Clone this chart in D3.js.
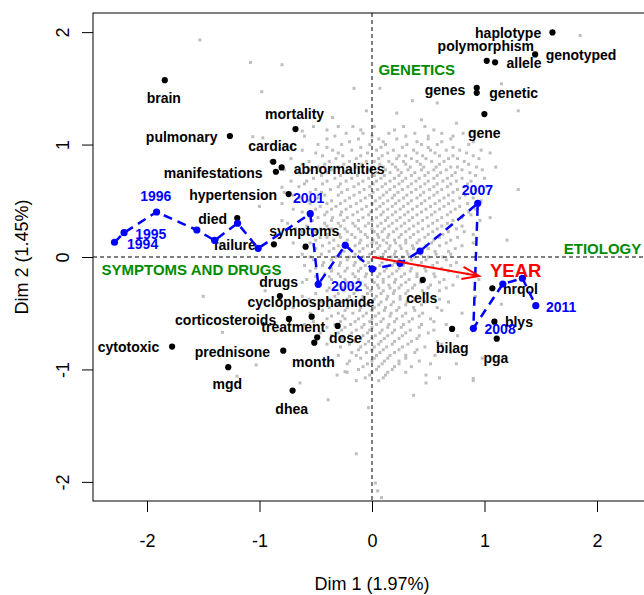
<!DOCTYPE html>
<html><head><meta charset="utf-8">
<script src="https://cdn.jsdelivr.net/npm/d3@7"></script>
<style>body{margin:0;background:#fff;overflow:hidden} text{font-family:"Liberation Sans",Arial,sans-serif}</style>
</head><body><svg id="c" width="644" height="595"></svg>
<script>
// ---------------- data ----------------
const xTicks = [-2, -1, 0, 1, 2];
const yTicks = [-2, -1, 0, 1, 2];
const xTitle = "Dim 1 (1.97%)";
const yTitle = "Dim 2 (1.45%)";

const words  = ["brain","pulmonary","mortality","cardiac","abnormalities","manifestations","hypertension","died","failure","symptoms",
                "drugs","cyclophosphamide","corticosteroids","treatment","dose","month","prednisone","mgd","dhea","cytotoxic",
                "haplotype","polymorphism","allele","genotyped","genes","genetic","gene",
                "cells","nrqol","blys","bilag","pga"];
const wordX  = [-1.842,-1.263,-0.680,-0.878,-0.803,-0.854,-0.741,-1.198,-0.872,-0.590,
                -0.819,-0.536,-0.738,-0.305,-0.487,-0.513,-0.789,-1.278,-0.706,-1.777,
                 1.604, 1.020, 1.094, 1.450, 0.931, 0.931, 0.999,
                 0.451, 1.070, 1.088, 0.712, 1.109];
const wordY  = [ 1.573, 1.076, 1.138, 0.847, 0.797, 0.758, 0.560, 0.347, 0.113, 0.092,
                -0.347,-0.531,-0.551,-0.613,-0.714,-0.762,-0.833,-0.980,-1.188,-0.797,
                 1.997, 1.745, 1.731, 1.802, 1.505, 1.460, 1.271,
                -0.204,-0.278,-0.575,-0.640,-0.726];
const wordLX = [-1.851,-1.692,-0.688,-0.883,-0.292,-1.412,-1.234,-1.417,-1.219,-0.602,
                -0.830,-0.544,-1.301,-0.700,-0.236,-0.520,-1.241,-1.286,-0.714,-2.165,
                 1.210, 1.012, 1.351, 1.858, 0.649, 1.259, 0.998,
                 0.442, 1.319, 1.306, 0.714, 1.101];
const wordLY = [ 1.413, 1.069, 1.268, 0.987, 0.782, 0.749, 0.551, 0.335, 0.104, 0.234,
                -0.225,-0.397,-0.560,-0.625,-0.723,-0.936,-0.842,-1.132,-1.354,-0.803,
                 1.988, 1.878, 1.727, 1.796, 1.484, 1.455, 1.105,
                -0.367,-0.287,-0.580,-0.806,-0.900];

const years = [1994,1995,1996,1997,1998,1999,2000,2001,2002,2003,2004,2005,2006,2007,2008,2009,2010,2011];
const yearX = [-2.289,-2.204,-1.915,-1.557,-1.399,-1.195,-1.012,-0.549,-0.478,-0.238, 0.003, 0.249, 0.427, 0.940, 0.901, 1.163, 1.337, 1.456];
const yearY = [ 0.131, 0.216, 0.400, 0.240, 0.148, 0.300, 0.077, 0.385,-0.243, 0.104,-0.107,-0.056, 0.053, 0.477,-0.634,-0.240,-0.189,-0.433];
const labeledYears = [1994,1995,1996,2001,2002,2007,2008,2011];
const yearLX = [-2.039,-1.966,-1.922,-0.563,-0.225, 0.937, 1.139, 1.681];
const yearLY = [ 0.113, 0.204, 0.542, 0.522,-0.258, 0.596,-0.643,-0.442];

const groups  = ["GENETICS","SYMPTOMS AND DRUGS","ETIOLOGY"];
const groupX  = [0.398,-1.604, 2.049];
const groupY  = [1.668,-0.109, 0.077];

const arrowEnd = [0.952, -0.169];
const arrowLabel = "YEAR";
const arrowLabelPos = [1.277, -0.122];

// gray cloud (other words): rows of [y, x-values]
const grayRows = [
 [1.16,[-0.52,-0.3,-0.17,0.02,0.28,0.47]],
 [1.13,[-0.4,-0.1,0.2,0.55]],
 [1.10,[-0.23,-0.08,0.15,0.38,0.62,0.81]],
 [1.075,[-0.6,-0.33,0.0,0.3,0.5,0.72]],
 [1.05,[-0.4,-0.12,0.06,0.22,0.5,0.7]],
 [1.025,[-0.2,0.1,0.4,0.62,0.9]],
 [1.00,[-0.48,-0.27,-0.02,0.12,0.31,0.44,0.58,0.86]],
 [0.975,[-0.72,-0.4,-0.1,0.08,0.27,0.5,0.72]],
 [0.95,[-0.62,-0.35,-0.18,0.04,0.19,0.37,0.52,0.66,0.78,0.97]],
 [0.925,[-0.5,-0.3,-0.04,0.14,0.4,0.56,0.84,1.05]],
 [0.90,[-0.44,-0.26,-0.1,0.09,0.24,0.3,0.45,0.6,0.72,0.9]],
 [0.875,[-0.72,-0.32,-0.14,0.06,0.22,0.35,0.48,0.68,0.76,0.95]],
 [0.85,[-0.56,-0.38,-0.2,-0.05,0.02,0.15,0.28,0.4,0.53,0.64,0.82]],
 [0.825,[-0.62,-0.42,-0.25,-0.09,0.07,0.18,0.3,0.43,0.6,0.86]],
 [0.80,[-0.48,-0.3,-0.14,0.0,0.1,0.21,0.34,0.46,0.57,0.7,0.76,0.93]],
 [0.775,[-0.78,-0.55,-0.36,-0.19,-0.04,0.12,0.23,0.32,0.44,0.55,0.66,0.8,0.98]],
 [0.75,[-0.66,-0.4,-0.24,-0.08,0.05,0.16,0.26,0.38,0.5,0.61,0.74,0.87]],
 [0.725,[-0.45,-0.28,-0.13,0.02,0.11,0.24,0.35,0.47,0.58,0.71,0.92]],
 [0.70,[-0.52,-0.33,-0.18,-0.03,0.08,0.2,0.3,0.42,0.55,0.67,0.8,1.0]],
 [0.675,[-0.72,-0.58,-0.4,-0.23,-0.08,0.04,0.16,0.27,0.39,0.5,0.63,0.75,0.88]],
 [0.65,[-0.6,-0.44,-0.28,-0.12,0.01,0.12,0.24,0.35,0.47,0.58,0.7,0.85]],
 [0.625,[-0.65,-0.3,-0.16,-0.02,0.09,0.2,0.32,0.43,0.55,0.67,0.82,1.02]],
 [0.60,[-0.5,-0.37,-0.22,-0.07,0.05,0.16,0.27,0.39,0.51,0.62,0.76,0.92]],
 [0.575,[-0.78,-0.55,-0.45,-0.27,-0.11,0.01,0.13,0.23,0.35,0.46,0.58,0.72,0.88]],
 [0.55,[-0.7,-0.42,-0.3,-0.16,-0.02,0.1,0.2,0.31,0.43,0.55,0.68,0.83]],
 [0.525,[-0.64,-0.48,-0.2,-0.06,0.07,0.18,0.28,0.4,0.51,0.64,0.78,0.9]],
 [0.50,[-0.56,-0.36,-0.24,-0.1,0.03,0.14,0.24,0.35,0.47,0.6,0.72,0.97]],
 [0.475,[-0.8,-0.55,-0.4,-0.28,-0.14,0.0,0.1,0.21,0.32,0.44,0.56,0.68,0.85]],
 [0.45,[-0.46,-0.32,-0.19,-0.05,0.07,0.18,0.28,0.4,0.52,0.64,0.78]],
 [0.425,[-0.7,-0.5,-0.36,-0.23,-0.09,0.04,0.14,0.25,0.36,0.48,0.6,0.74,0.92]],
 [0.40,[-0.62,-0.4,-0.27,-0.13,-0.01,0.1,0.21,0.32,0.44,0.56,0.7,0.86]],
 [0.375,[-0.56,-0.42,-0.28,-0.17,-0.03,0.08,0.18,0.29,0.4,0.53,0.67,0.88]],
 [0.35,[-0.48,-0.35,-0.22,-0.08,0.04,0.14,0.25,0.36,0.49,0.62,0.8]],
 [0.325,[-0.8,-0.53,-0.36,-0.25,-0.12,0.0,0.12,0.22,0.33,0.45,0.58,0.72,0.96]],
 [0.30,[-0.42,-0.3,-0.17,-0.03,0.08,0.18,0.29,0.41,0.54,0.67]],
 [0.275,[-0.58,-0.4,-0.28,-0.15,-0.06,0.05,0.15,0.26,0.37,0.5,0.62,0.8]],
 [0.25,[-0.68,-0.46,-0.36,-0.24,-0.12,0.0,0.11,0.22,0.33,0.45,0.58,0.75]],
 [0.225,[-0.62,-0.5,-0.34,-0.22,-0.1,0.02,0.09,0.19,0.3,0.41,0.54,0.68,0.82]],
 [0.20,[-0.4,-0.29,-0.18,-0.06,0.05,0.15,0.26,0.37,0.5,0.63,0.9]],
 [0.175,[-0.46,-0.4,-0.28,-0.15,-0.04,0.06,0.14,0.24,0.34,0.47,0.6,0.76]],
 [0.15,[-0.5,-0.34,-0.22,-0.1,0.01,0.1,0.2,0.3,0.42,0.55,0.7]],
 [0.125,[-0.7,-0.55,-0.38,-0.24,-0.11,0.0,0.04,0.13,0.21,0.3,0.4,0.53,0.66,0.9]],
 [0.10,[-0.44,-0.3,-0.15,-0.04,0.07,0.16,0.25,0.36,0.48,0.6,0.8]],
 [0.075,[-0.5,-0.34,-0.2,-0.08,0.05,0.15,0.26,0.37,0.5,0.74]],
 [0.05,[-0.38,-0.25,-0.11,0.02,0.12,0.21,0.31,0.43,0.56,0.68]],
 [0.025,[-0.62,-0.45,-0.28,-0.15,-0.02,0.1,0.2,0.32,0.44,0.57,0.7]],
 [0.00,[-0.55,-0.32,-0.2,-0.08,0.06,0.17,0.27,0.38,0.5,0.63]],
 [-0.025,[-0.52,-0.36,-0.22,-0.1,0.0,0.13,0.24,0.35,0.48,0.66]],
 [-0.05,[-0.43,-0.28,-0.15,-0.03,0.09,0.2,0.31,0.44,0.58,0.75]],
 [-0.075,[-0.6,-0.44,-0.29,-0.16,-0.06,0.07,0.18,0.28,0.41,0.54,0.7]],
 [-0.10,[-0.5,-0.36,-0.22,-0.1,0.03,0.13,0.24,0.35,0.47,0.62]],
 [-0.125,[-0.55,-0.36,-0.24,-0.12,0.0,0.11,0.22,0.34,0.48,0.68]],
 [-0.15,[-0.42,-0.3,-0.17,-0.05,0.07,0.18,0.29,0.4,0.55,0.85]],
 [-0.175,[-0.5,-0.38,-0.28,-0.15,-0.06,0.05,0.15,0.26,0.4,0.56,0.76]],
 [-0.20,[-0.58,-0.36,-0.24,-0.12,0.0,0.1,0.21,0.33,0.46,0.64]],
 [-0.225,[-0.62,-0.48,-0.22,-0.1,0.02,0.1,0.2,0.3,0.43,0.6]],
 [-0.25,[-0.46,-0.3,-0.18,-0.06,0.05,0.15,0.26,0.38,0.52,0.72]],
 [-0.275,[-0.38,-0.26,-0.14,-0.04,0.06,0.16,0.24,0.36,0.5,0.66]],
 [-0.30,[-0.4,-0.25,-0.13,-0.01,0.1,0.2,0.32,0.45,0.6]],
 [-0.325,[-0.5,-0.3,-0.16,-0.04,0.08,0.19,0.3,0.48]],
 [-0.35,[-0.62,-0.33,-0.2,-0.08,0.04,0.14,0.25,0.4,0.55,0.92]],
 [-0.375,[-0.56,-0.38,-0.22,-0.09,0.02,0.13,0.25,0.38,0.6]],
 [-0.40,[-0.45,-0.27,-0.15,-0.03,0.08,0.19,0.31,0.47,0.68]],
 [-0.425,[-0.52,-0.3,-0.16,-0.05,0.06,0.17,0.3,0.44]],
 [-0.45,[-0.38,-0.22,-0.1,0.02,0.12,0.24,0.37,0.58]],
 [-0.475,[-0.44,-0.24,-0.11,0.0,0.11,0.22,0.38,0.62]],
 [-0.50,[-0.55,-0.3,-0.17,-0.05,0.06,0.17,0.3,0.45,0.8]],
 [-0.525,[-0.36,-0.26,-0.08,0.03,0.16,0.27,0.42]],
 [-0.55,[-0.4,-0.24,-0.12,0.0,0.1,0.22,0.36,0.52]],
 [-0.575,[-0.52,-0.28,-0.15,-0.02,0.08,0.2,0.33,0.55]],
 [-0.60,[-0.6,-0.33,-0.19,-0.07,0.04,0.15,0.28,0.44,0.66]],
 [-0.625,[-0.4,-0.24,-0.09,0.0,0.14,0.26,0.42]],
 [-0.65,[-0.27,-0.14,-0.02,0.09,0.2,0.34,0.55]],
 [-0.675,[-0.46,-0.3,-0.18,-0.04,0.07,0.18,0.3,0.5]],
 [-0.70,[-0.36,-0.2,-0.08,0.03,0.14,0.27,0.42,0.76]],
 [-0.725,[-0.27,-0.1,0.0,0.11,0.24,0.4]],
 [-0.75,[-0.15,-0.03,0.08,0.2,0.35,0.58]],
 [-0.775,[-0.4,-0.2,-0.06,0.06,0.18,0.32,0.62]],
 [-0.80,[-0.28,-0.1,0.02,0.13,0.27,0.47]],
 [-0.825,[-0.12,0.0,0.1,0.24,0.4]],
 [-0.85,[-0.18,-0.05,0.07,0.2,0.38,0.7]],
 [-0.875,[-0.3,-0.14,0.04,0.16,0.3,0.56]],
 [-0.90,[-0.1,0.02,0.14,0.3]],
 [-0.925,[-0.2,0.0,0.11,0.24,0.42]],
 [-0.95,[-0.22,-0.04,0.09,0.24,0.52]],
 [-0.975,[-0.08,0.06,0.2,0.35]],
 [-1.00,[-0.12,0.04,0.18]],
 [-1.025,[-0.22,0.0,0.14,0.3]],
 [-1.05,[-0.31,-0.02,0.12,0.48]],
 [-1.075,[-0.06,0.1,0.6]],
 [-1.10,[-0.14,0.06,0.9]]
];
const grayExtra = [[-1.53,1.93],[1.85,1.97],[-1.08,1.73],[-0.80,1.71],[1.15,1.54],[-0.16,1.50],[0.07,1.50],[-0.98,1.47],
 [0.36,1.39],[0.58,1.37],[-0.05,1.30],[0.22,1.28],[0.44,1.22],[-0.35,1.24],[0.75,1.19],[0.9,1.12],[-0.62,1.12],
 [-1.06,1.07],[-0.97,1.06],[-0.8,0.62],[-0.75,0.3],[-0.85,-0.12],[-0.7,-0.45],[-0.95,-0.3],[-1.33,-0.67],
 [-1.03,-0.96],[-1.2,-1.06],[-0.24,-1.02],[-0.64,-1.12],[0.37,-1.23],[-0.39,-1.27],[-0.03,-1.34],[0.48,-1.12],
 [0.9,-1.08],[-0.14,-1.75],[0.03,-2.01],[0.05,-2.08],[0.085,-2.14],[1.05,0.35],[1.2,0.15],[0.95,-0.2],[1.15,-0.42],
 [1.3,0.6],[1.1,0.8],[0.98,-0.9],[0.75,-0.95],[-0.9,0.85],[-1.0,0.45],[-1.5,-0.35],[1.3,1.3]];

// ---------------- drawing ----------------
const svg = d3.select("#c");
const x = d3.scaleLinear().domain([-2.48, 2.48]).range([93, 651]);
const y = d3.scaleLinear().domain([-2.17, 2.17]).range([501, 13]);

const grayPts = [];
grayRows.forEach(([gy, xs]) => xs.forEach(gx => grayPts.push([gx, gy])));
grayExtra.forEach(p => grayPts.push(p));

svg.append("g").selectAll("rect").data(grayPts).join("rect")
  .attr("x", d => x(d[0]) - 1.5).attr("y", d => y(d[1]) - 1.5)
  .attr("width", 3).attr("height", 3).attr("fill", "#BEBEBE");

// dashed zero lines
svg.append("line").attr("x1", x(0)).attr("x2", x(0)).attr("y1", y.range()[1]).attr("y2", y.range()[0])
  .attr("stroke", "#000").attr("stroke-width", 1).attr("stroke-dasharray", "4,3");
svg.append("line").attr("x1", x.range()[0]).attr("x2", x.range()[1]).attr("y1", y(0)).attr("y2", y(0))
  .attr("stroke", "#000").attr("stroke-width", 1).attr("stroke-dasharray", "4,3");

// word points and labels
const wIdx = d3.range(words.length);
svg.append("g").selectAll("circle").data(wIdx).join("circle")
  .attr("cx", i => x(wordX[i])).attr("cy", i => y(wordY[i])).attr("r", 3.1).attr("fill", "#000");
svg.append("g").selectAll("text").data(wIdx).join("text")
  .attr("x", i => x(wordLX[i])).attr("y", i => y(wordLY[i])).attr("dy", "0.35em")
  .attr("text-anchor", "middle").attr("font-size", 14).attr("font-weight", "bold").attr("fill", "#000")
  .text(i => words[i]);

// group labels
svg.append("g").selectAll("text").data(d3.range(groups.length)).join("text")
  .attr("x", i => x(groupX[i])).attr("y", i => y(groupY[i])).attr("dy", "0.35em")
  .attr("text-anchor", "middle").attr("font-size", 15).attr("font-weight", "bold").attr("fill", "#008B00")
  .text(i => groups[i]);

// year trajectory
const yIdx = d3.range(years.length);
svg.append("path").datum(yIdx)
  .attr("d", d3.line().x(i => x(yearX[i])).y(i => y(yearY[i])))
  .attr("fill", "none").attr("stroke", "#0000FF").attr("stroke-width", 2.5).attr("stroke-dasharray", "9,6");
svg.append("g").selectAll("circle").data(yIdx).join("circle")
  .attr("cx", i => x(yearX[i])).attr("cy", i => y(yearY[i])).attr("r", 3.6).attr("fill", "#0000FF");
svg.append("g").selectAll("text").data(d3.range(labeledYears.length)).join("text")
  .attr("x", i => x(yearLX[i])).attr("y", i => y(yearLY[i])).attr("dy", "0.35em")
  .attr("text-anchor", "middle").attr("font-size", 14).attr("font-weight", "bold").attr("fill", "#0000FF")
  .text(i => labeledYears[i]);

// red arrow
const ax0 = x(0), ay0 = y(0), ax1 = x(arrowEnd[0]), ay1 = y(arrowEnd[1]);
const ang = Math.atan2(ay1 - ay0, ax1 - ax0), hl = 18, ha = 20 * Math.PI / 180;
svg.append("path")
  .attr("d", `M${ax0},${ay0}L${ax1},${ay1}M${ax1 - hl*Math.cos(ang-ha)},${ay1 - hl*Math.sin(ang-ha)}L${ax1},${ay1}L${ax1 - hl*Math.cos(ang+ha)},${ay1 - hl*Math.sin(ang+ha)}`)
  .attr("fill", "none").attr("stroke", "#FF0000").attr("stroke-width", 2);
svg.append("text").attr("x", x(arrowLabelPos[0])).attr("y", y(arrowLabelPos[1])).attr("dy", "0.35em")
  .attr("text-anchor", "middle").attr("font-size", 18.5).attr("font-weight", "bold").attr("fill", "#FF0000")
  .text(arrowLabel);

// box
svg.append("rect").attr("x", x.range()[0]).attr("y", y.range()[1])
  .attr("width", x.range()[1] - x.range()[0]).attr("height", y.range()[0] - y.range()[1])
  .attr("fill", "none").attr("stroke", "#000").attr("stroke-width", 1);

// axes
const gx = svg.append("g").attr("transform", `translate(0,${y.range()[0]})`)
  .call(d3.axisBottom(x).tickValues(xTicks).tickSize(11).tickPadding(22).tickFormat(d => String(d)));
gx.select(".domain").remove();
gx.selectAll("text").attr("font-size", 18).attr("font-family", "Liberation Sans, Arial, sans-serif").attr("fill", "#000");
gx.selectAll("line").attr("stroke", "#000");

const gy = svg.append("g").attr("transform", `translate(${x.range()[0]},0)`)
  .call(d3.axisLeft(y).tickValues(yTicks).tickSize(11).tickFormat(d => String(d)));
gy.select(".domain").remove();
gy.selectAll("line").attr("stroke", "#000");
gy.selectAll("text").attr("x", null).attr("dy", null).attr("y", 0)
  .attr("transform", "translate(-24,0) rotate(-90)").attr("text-anchor", "middle")
  .attr("font-size", 18).attr("font-family", "Liberation Sans, Arial, sans-serif").attr("fill", "#000");

// titles
svg.append("text").attr("x", (x.range()[0] + x.range()[1]) / 2).attr("y", 590)
  .attr("text-anchor", "middle").attr("font-size", 18).text(xTitle);
svg.append("text").attr("transform", `translate(28,${(y.range()[0] + y.range()[1]) / 2}) rotate(-90)`)
  .attr("text-anchor", "middle").attr("font-size", 18).text(yTitle);
</script>
</body></html>
